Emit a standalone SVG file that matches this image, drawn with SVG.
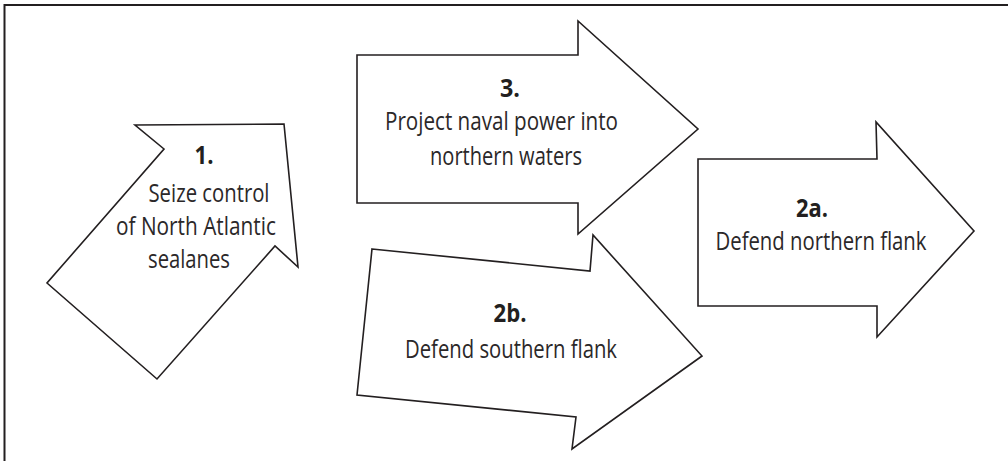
<svg xmlns="http://www.w3.org/2000/svg" width="1008" height="461" viewBox="0 0 1008 461">
<style>
.arrow{fill:#fff;stroke:#231f20;stroke-width:1.6;stroke-linejoin:miter}
.frame{fill:none;stroke:#231f20;stroke-width:2}
text{font-family:"Open Sans","Noto Sans","Liberation Sans",sans-serif;font-size:25px;fill:#2b2829;text-anchor:middle}
.b{font-weight:bold;fill:#231f20}
</style>
<rect width="1008" height="461" fill="#fff"/>
<path class="frame" d="M4.5,461 V5 H1008"/>
<g id="arrow1">
<polygon class="arrow" points="135,125 284,124 298,267 275,246 157,379 47,283 164,149"/>
<text class="b" x="204" y="164" textLength="19" lengthAdjust="spacingAndGlyphs">1.</text>
<text x="209" y="202" textLength="121" lengthAdjust="spacingAndGlyphs">Seize control</text>
<text x="196" y="235" textLength="160" lengthAdjust="spacingAndGlyphs">of North Atlantic</text>
<text x="189" y="268" textLength="82" lengthAdjust="spacingAndGlyphs">sealanes</text>
</g>
<g id="arrow3">
<polygon class="arrow" points="357,55 578,55 578,21 698,129 578,234 578,203 357,203"/>
<text class="b" x="510" y="97" textLength="20" lengthAdjust="spacingAndGlyphs">3.</text>
<text x="501.5" y="130" textLength="233" lengthAdjust="spacingAndGlyphs">Project naval power into</text>
<text x="506" y="165" textLength="152" lengthAdjust="spacingAndGlyphs">northern waters</text>
</g>
<g id="arrow2b">
<polygon class="arrow" points="372,249 590,271 593,235 702,356 572,449 576,417 357,395"/>
<text class="b" x="510" y="322" textLength="33" lengthAdjust="spacingAndGlyphs">2b.</text>
<text x="511" y="358" textLength="212" lengthAdjust="spacingAndGlyphs">Defend southern flank</text>
</g>
<g id="arrow2a">
<polygon class="arrow" points="698,159 877,159 876,122 974,231 877,337 877,306 698,306"/>
<text class="b" x="812" y="217" textLength="32" lengthAdjust="spacingAndGlyphs">2a.</text>
<text x="821" y="250" textLength="211" lengthAdjust="spacingAndGlyphs">Defend northern flank</text>
</g>
<g id="connectors"></g>
</svg>
